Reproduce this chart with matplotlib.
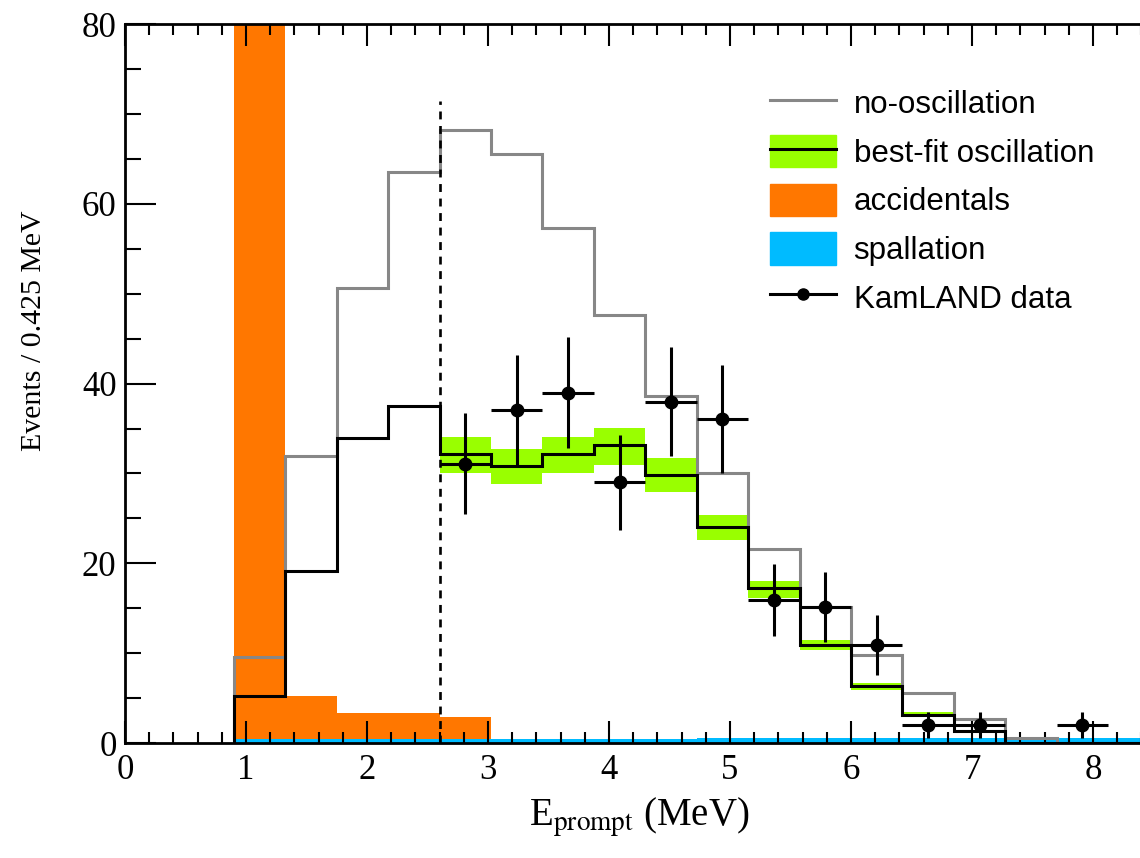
import matplotlib
matplotlib.use("Agg")
import matplotlib.pyplot as plt
from matplotlib.lines import Line2D
from matplotlib.patches import Patch
from matplotlib.ticker import MultipleLocator

plt.rcParams["font.family"] = "serif"
plt.rcParams["font.serif"] = ["Liberation Serif", "DejaVu Serif"]
plt.rcParams["mathtext.fontset"] = "stix"

# --- Data (bins of 0.425 MeV) ---
edges = [0.9, 1.325, 1.75, 2.175, 2.6, 3.025, 3.45, 3.875, 4.3, 4.725,
         5.15, 5.575, 6.0, 6.425, 6.85, 7.275, 7.7, 8.125, 8.55]
no_osc = [9.6, 31.9, 50.7, 63.6, 68.2, 65.6, 57.3, 47.6, 38.6, 30.0,
          21.6, 15.1, 9.8, 5.6, 2.7, 0.6, 0.0, 0.0]
best_fit = [5.2, 19.1, 33.9, 37.5, 32.2, 30.8, 32.2, 33.2, 29.8, 24.0,
            17.2, 10.9, 6.4, 3.1, 1.3, 0.0, 0.0, 0.0]
accidentals = [110.0, 5.2, 3.3, 3.3, 2.9, 0.2, 0.2, 0.0, 0.0, 0.0,
               0.0, 0.0, 0.0, 0.0, 0.0, 0.0, 0.0, 0.0]
spallation = [0.4, 0.4, 0.4, 0.4, 0.4, 0.4, 0.4, 0.4, 0.4, 0.55,
              0.55, 0.55, 0.55, 0.55, 0.55, 0.55, 0.55, 0.55]

# uncertainty band on best fit (above the 2.6 MeV threshold)
band_edges = [2.6, 3.025, 3.45, 3.875, 4.3, 4.725, 5.15, 5.575, 6.0,
              6.425, 6.85, 7.275]
band_low = [30.1, 28.8, 30.1, 31.0, 27.9, 22.6, 16.1, 10.3, 5.9, 2.9, 1.2]
band_high = [34.1, 32.7, 34.1, 35.1, 31.7, 25.4, 18.0, 11.5, 6.7, 3.4, 1.5]

# KamLAND data
data_x = [2.8125, 3.2375, 3.6625, 4.0875, 4.5125, 4.9375, 5.3625, 5.7875,
          6.2125, 6.6375, 7.0625, 7.9125]
data_y = [31.1, 37.1, 39.0, 29.0, 38.0, 36.1, 15.9, 15.1, 10.9, 2.0, 2.0, 2.0]
data_err = [5.6, 6.1, 6.2, 5.3, 6.1, 6.0, 4.0, 3.9, 3.3, 1.4, 1.4, 1.4]
half_bin = 0.2125
threshold = 2.6
threshold_top = 71.5

orange = "#ff7700"
green = "#99ff00"
blue = "#00bbff"
gray = "#878787"

fig = plt.figure(figsize=(11.4, 8.58), dpi=100)
ax = fig.add_axes([0.1096, 0.134, 0.9022, 0.8377])

ax.stairs(accidentals, edges, fill=True, color=orange, zorder=1)
ax.stairs(spallation, edges, fill=True, color=blue, zorder=1.5)
ax.stairs(band_high, band_edges, baseline=band_low, fill=True, color=green, zorder=2)
ax.stairs(no_osc, edges, color=gray, lw=2.2, zorder=3)
ax.stairs(best_fit, edges, color="black", lw=2.2, zorder=4)
ax.plot([threshold, threshold], [0, threshold_top], color="black", lw=1.9,
        ls=(0, (3, 2.5)), zorder=3)
ax.errorbar(data_x, data_y, yerr=data_err, xerr=half_bin, fmt="o", color="black",
            ms=9, lw=2.2, capsize=0, zorder=5)

ax.set_xlim(0, 8.5)
ax.set_ylim(0, 80)
ax.xaxis.set_major_locator(MultipleLocator(1))
ax.xaxis.set_minor_locator(MultipleLocator(0.2))
ax.yaxis.set_major_locator(MultipleLocator(20))
ax.yaxis.set_minor_locator(MultipleLocator(5))
ax.tick_params(which="both", direction="in", top=True, right=False, width=1.5,
               labelsize=25)
ax.xaxis.set_tick_params(which="major", length=16, pad=8)
ax.xaxis.set_tick_params(which="minor", length=8)
ax.yaxis.set_tick_params(which="major", length=22, pad=6)
ax.yaxis.set_tick_params(which="minor", length=11.5)
ax.spines["right"].set_visible(False)
for s in ax.spines.values():
    s.set_linewidth(2)

ax.set_xlabel(r"E$_{\rm prompt}$ (MeV)", fontsize=28, labelpad=6)
ax.set_ylabel("Events / 0.425 MeV", fontsize=21.5)
ax.yaxis.set_label_coords(-0.076, 0.574)

handles = [
    Line2D([], [], color=gray, lw=2.2),
    (Patch(color=green), Line2D([], [], color="black", lw=2.2)),
    Patch(color=orange),
    Patch(color=blue),
    Line2D([], [], color="black", lw=2.2, marker="o", ms=8),
]
labels = ["no-oscillation", "best-fit oscillation", "accidentals", "spallation",
          "KamLAND data"]
ax.legend(handles, labels, loc="upper left", bbox_to_anchor=(0.627, 0.913),
          frameon=False, prop={"family": "Liberation Sans", "size": 22.5},
          handlelength=2.13, handleheight=1.2, handletextpad=0.55,
          labelspacing=0.48, borderpad=0, borderaxespad=0)

fig.savefig("out.png", dpi=100)
